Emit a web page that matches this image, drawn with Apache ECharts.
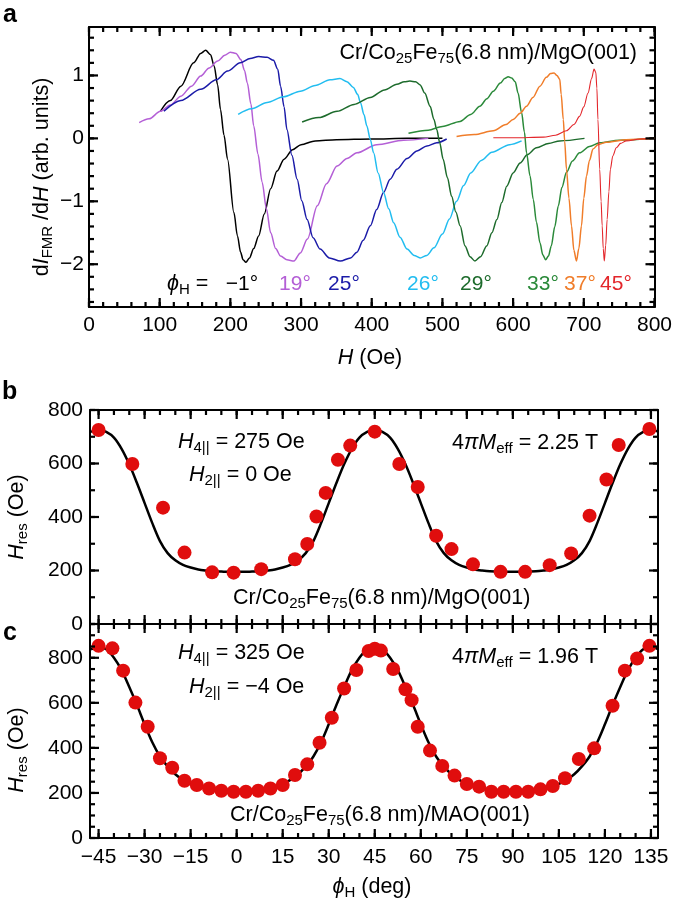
<!DOCTYPE html>
<html><head><meta charset="utf-8">
<script src="https://cdn.jsdelivr.net/npm/echarts@6/dist/echarts.min.js"></script>
<style>html,body{margin:0;padding:0;background:#fff}#c{width:675px;height:908px}</style>
</head><body><div id="c"></div>
<script>
const FONT = '"Liberation Sans", Arial, Helvetica, sans-serif';

// ---------- Panel a: FMR derivative spectra, [H (Oe), dI/dH] ----------
const specM1 = [[101,0.43],[115,0.6],[130,0.83],[148,1.2],[158,1.35],[165,1.40],[172,1.33],[177,1.15],[182,0.85],[186,0.46],[191,0.05],[196,-0.33],[205,-1.18],[210,-1.55],[214.5,-1.81],[218,-1.93],[222,-1.97],[227,-1.9],[233,-1.75],[240,-1.55],[248,-1.2],[257,-0.8],[266,-0.52],[276,-0.33],[288,-0.18],[300,-0.1],[320,-0.04],[350,-0.02],[400,-0.01],[450,0],[500,0]];
const spec19 = [[71,0.25],[85,0.31],[101,0.43],[115,0.53],[130,0.67],[145,0.83],[158,0.99],[170,1.12],[182,1.23],[192,1.32],[200,1.37],[208,1.35],[215,1.25],[220,1.08],[224,0.88],[229,0.55],[233,0.2],[239,-0.25],[245,-0.70],[251,-1.12],[257,-1.5],[264,-1.75],[271,-1.87],[280,-1.93],[290,-1.95],[299,-1.82],[309,-1.6],[323,-1.07],[336,-0.72],[351,-0.44],[365,-0.32],[379,-0.23],[407,-0.1],[445,-0.03],[480,0]];
const spec25 = [[106,0.43],[130,0.6],[158,0.78],[180,0.93],[196,1.07],[214,1.2],[228,1.27],[240,1.30],[252,1.29],[261,1.24],[267,1.1],[271,0.83],[276,0.5],[280,0.14],[287,-0.27],[294.5,-0.65],[301,-0.99],[308.6,-1.29],[317,-1.58],[327,-1.76],[340,-1.9],[355.6,-1.95],[370,-1.9],[379,-1.81],[388,-1.62],[398,-1.39],[407,-1.13],[416.7,-0.86],[426,-0.65],[435.6,-0.49],[450,-0.32],[464,-0.2],[478,-0.12],[492,-0.07],[506,-0.01]];
const spec26 = [[211,0.38],[230,0.47],[252,0.57],[275,0.66],[299,0.75],[320,0.84],[341,0.93],[355,0.95],[365,0.9],[374,0.81],[380,0.7],[384,0.57],[389,0.38],[393,0.2],[398,-0.02],[402.6,-0.23],[409,-0.55],[416.7,-0.86],[424,-1.12],[431,-1.34],[440,-1.57],[450,-1.76],[460,-1.86],[468.5,-1.9],[478,-1.86],[488,-1.74],[500,-1.52],[510,-1.28],[520,-1.0],[530,-0.75],[540,-0.55],[555,-0.35],[570,-0.22],[595,-0.1],[612,-0.04]];
const spec29 = [[301.5,0.26],[325,0.33],[351,0.43],[375,0.54],[398,0.65],[418,0.77],[435.6,0.86],[446,0.9],[454,0.91],[462,0.9],[468.5,0.85],[475,0.72],[482.6,0.51],[488,0.3],[492,0.14],[496,-0.06],[501,-0.33],[507,-0.62],[513,-0.92],[519,-1.17],[525,-1.39],[532,-1.71],[539,-1.88],[546,-1.95],[554,-1.88],[562.6,-1.71],[570,-1.5],[577,-1.29],[584,-1.02],[591,-0.76],[600,-0.55],[610,-0.39],[620,-0.26],[633,-0.15],[650,-0.08],[666,-0.04],[701,0]];
const spec33 = [[452,0.08],[480,0.13],[500,0.19],[525,0.27],[540,0.38],[553,0.51],[563,0.63],[572,0.75],[582,0.88],[588,0.95],[593,0.98],[598,0.96],[603,0.9],[607,0.72],[612,0.41],[616,0.1],[619,-0.23],[624,-0.6],[628.5,-0.97],[633,-1.33],[638,-1.66],[642,-1.85],[646,-1.93],[650,-1.87],[654,-1.71],[659,-1.4],[664,-1.07],[669,-0.78],[675.5,-0.54],[684,-0.36],[694,-0.23],[708,-0.13],[722.5,-0.07],[750,-0.03],[800,0]];
const spec37 = [[520,0.03],[545,0.06],[572,0.12],[590,0.22],[600,0.30],[610,0.4],[619,0.51],[628,0.65],[638,0.83],[647,0.97],[653,1.03],[658,1.04],[662,1.0],[666,0.94],[668,0.7],[671,0.3],[673,-0.05],[675.5,-0.49],[679,-0.95],[682.6,-1.39],[686,-1.78],[689.6,-1.95],[693,-1.75],[696.7,-1.39],[700,-0.95],[703.8,-0.6],[708,-0.35],[713,-0.17],[720,-0.1],[732,-0.06],[760,-0.02],[800,0]];
const spec45 = [[572,0.01],[600,0.01],[643,0.02],[660,0.05],[675.5,0.12],[686,0.22],[694,0.35],[700,0.5],[706,0.72],[711,0.95],[714.5,1.10],[717,1.05],[718.5,0.8],[720,0.3],[722.5,-0.49],[724.5,-1.0],[726,-1.39],[727.5,-1.75],[729,-1.95],[731,-1.7],[733,-1.29],[735.5,-0.85],[737.6,-0.49],[741,-0.28],[746,-0.15],[752,-0.08],[760,-0.04],[780,-0.01],[800,0]];
const specNames  = ['-1°','19°','25°','26°','29°','33°','37°','45°'];
const specColors = ['#000000','#b45fd6','#1b1ba8','#22bdf0','#1d6b2c','#2b8a3a','#f07d2a','#e3262b'];
const specLabelX = [242, 295, 344, 423, 476, 543, 580, 616];

// ---------- Panel b: MgO(001) ----------
const bAngle = [-45,-34,-24,-17,-8,-1,8,19,23,26,29,33,37,45,53,59,65,70,77,86,94,102,109,115,120.5,124.5,134.5];
const bHres  = [725,598,435,267,193,192,205,242,299,402,490,614,667,719,598,512,330,280,223,195,195,220,264,405,540,669,729];

// ---------- Panel c: MAO(001) ----------
const cAngle = [-45,-40.5,-37,-33,-29,-25,-21,-17,-13,-9,-5,-1,3,7,11,15,19,23,27,31,35,39,43,45,47,51,55,57,59,63,67,71,75,79,83,87,91,95,99,103,107,111.5,116.5,122.5,126.5,130.5,134.5];
const cHres  = [853,842,743,601,494,354,312,254,235,220,210,205,205,210,220,235,280,327,423,534,664,746,830,840,832,750,660,612,494,388,320,277,240,228,205,205,205,205,216,231,265,351,398,587,743,797,853];

// ---------- Fit curves ----------
const fitAngle = [-47.5,-45,-42.5,-40,-37.5,-35,-32.5,-30,-27.5,-25,-22.5,-20,-17.5,-15,-12.5,-10,-7.5,-5,-2.5,0,
 2.5,5,7.5,10,12.5,15,17.5,20,22.5,25,27.5,30,32.5,35,37.5,40,42.5,45,
 47.5,50,52.5,55,57.5,60,62.5,65,67.5,70,72.5,75,77.5,80,82.5,85,87.5,90,
 92.5,95,97.5,100,102.5,105,107.5,110,112.5,115,117.5,120,122.5,125,127.5,130,132.5,135,137.5];
const fitB = [718,727,718,697,655,597,527,452,377,310,265,238,221,211,204,200,197,196,195,195,
 195,196,197,200,204,211,221,238,265,310,377,452,527,597,655,697,718,727,
 718,697,655,597,527,452,377,310,265,238,221,211,204,200,197,196,195,195,
 195,196,197,200,204,211,221,238,265,310,377,452,527,597,655,697,718,727,718];
const fitC = [838,848,838,800,745,670,590,505,425,362,318,283,258,240,228,219,213,209,207,206,
 207,209,213,219,228,240,258,283,318,362,425,505,590,670,745,800,838,848,
 838,800,745,670,590,505,425,362,318,283,258,240,228,219,213,209,207,206,
 207,209,213,219,228,240,258,283,318,362,425,505,590,670,745,800,838,848,838];

// ---------- Tick values ----------
const aXTicks = [0,100,200,300,400,500,600,700,800];
const aYTicks = [-2,-1,0,1];
const bcXTicks = [-45,-30,-15,0,15,30,45,60,75,90,105,120,135];
const bYTicks = [0,200,400,600,800];
const cYTicks = [0,200,400,600,800];

function rng(a,b,s){const r=[];for(let v=a; v<=b+1e-9; v+=s) r.push(Math.round(v*1000)/1000); return r;}
const aXMinor = rng(0,800,20), aYMinor = rng(-2.6,1.6,0.2);
const bcXMinor = rng(-45,135,5), bYMinor = rng(0,800,100), cYMinor = rng(0,950,50);

const minus = v => String(v).replace('-', '\u2212');

const PAN = [
  {xMin:0, xMax:800, yMin:-2.68, yMax:1.77, xMaj:aXTicks, xMin_:aXMinor, yMaj:aYTicks, yMin_:aYMinor, xLab:true, xMargin:8, yMargin:5},
  {xMin:-47.8, xMax:137.3, yMin:0, yMax:800, xMaj:bcXTicks, xMin_:bcXMinor, yMaj:bYTicks, yMin_:bYMinor, xLab:false, xMargin:8, yMargin:7},
  {xMin:-47.8, xMax:137.3, yMin:0, yMax:950, xMaj:bcXTicks, xMin_:bcXMinor, yMaj:cYTicks, yMin_:cYMinor, xLab:true, xMargin:9, yMargin:7}
];

const xAxes = [], yAxes = [];
PAN.forEach((p,g)=>{
  ['bottom','top'].forEach((pos,k)=>{
    xAxes.push({type:'value', gridIndex:g, min:p.xMin, max:p.xMax, position:pos,
      axisLine:{show:true, onZero:false, lineStyle:{color:'#000', width:2}},
      splitLine:{show:false}, axisTick:{show:false}, minorTick:{show:false},
      axisLabel:{show: k===0 && p.xLab, customValues:p.xMaj, formatter:minus, color:'#000', fontSize:21, fontFamily:FONT, margin:p.xMargin}});
  });
  ['left','right'].forEach((pos,k)=>{
    yAxes.push({type:'value', gridIndex:g, min:p.yMin, max:p.yMax, position:pos,
      axisLine:{show:true, onZero:false, lineStyle:{color:'#000', width:2}},
      splitLine:{show:false}, axisTick:{show:false}, minorTick:{show:false},
      axisLabel:{show: k===0, customValues:p.yMaj, formatter:minus, color:'#000', fontSize:21, fontFamily:FONT, margin:p.yMargin}});
  });
});

// inward ticks on all four sides, placed through the axes' scales
function tickData(p){
  const d = [];
  p.xMaj.forEach(v=>{ d.push([v,p.yMin,0,9]); d.push([v,p.yMin,1,9]); });
  p.xMin_.forEach(v=>{ d.push([v,p.yMin,0,5]); d.push([v,p.yMin,1,5]); });
  p.yMaj.forEach(v=>{ d.push([p.xMin,v,2,9]); d.push([p.xMin,v,3,9]); });
  p.yMin_.forEach(v=>{ d.push([p.xMin,v,2,5]); d.push([p.xMin,v,3,5]); });
  return d;
}
function renderTick(params, api){
  const cs = params.coordSys;
  const pt = api.coord([api.value(0), api.value(1)]);
  const side = api.value(2), len = api.value(3);
  let x1,y1,x2,y2;
  if (side===0){ x1=x2=pt[0]; y1=cs.y+cs.height; y2=y1-len; }
  else if (side===1){ x1=x2=pt[0]; y1=cs.y; y2=y1+len; }
  else if (side===2){ y1=y2=pt[1]; x1=cs.x; x2=x1+len; }
  else { y1=y2=pt[1]; x1=cs.x+cs.width; x2=x1-len; }
  return {type:'line', shape:{x1:x1,y1:y1,x2:x2,y2:y2}, style:{stroke:'#000', lineWidth:2.2}};
}

const specs = [specM1,spec19,spec25,spec26,spec29,spec33,spec37,spec45];
const series = [];
specs.forEach((d,i)=>{
  series.push({type:'line', name:specNames[i], xAxisIndex:0, yAxisIndex:0, data:d,
    showSymbol:false, symbol:'none', smooth:0.3, smoothMonotone:'x',
    lineStyle:{color:specColors[i], width: i===7 ? 1.1 : 1.5}, z:2+i});
});
series.push({type:'line', xAxisIndex:2, yAxisIndex:2, data:fitAngle.map((a,k)=>[a,fitB[k]]),
  showSymbol:false, symbol:'none', smooth:0.3, lineStyle:{color:'#000', width:2.5}, z:3});
series.push({type:'scatter', xAxisIndex:2, yAxisIndex:2, data:bAngle.map((a,k)=>[a,bHres[k]]),
  symbolSize:14, itemStyle:{color:'#e00d0d', opacity:1}, z:4});
series.push({type:'line', xAxisIndex:4, yAxisIndex:4, data:fitAngle.map((a,k)=>[a,fitC[k]]),
  showSymbol:false, symbol:'none', smooth:0.3, lineStyle:{color:'#000', width:2.5}, z:3});
series.push({type:'scatter', xAxisIndex:4, yAxisIndex:4, data:cAngle.map((a,k)=>[a,cHres[k]]),
  symbolSize:14, itemStyle:{color:'#e00d0d', opacity:1}, z:4});
PAN.forEach((p,g)=>{
  series.push({type:'custom', coordinateSystem:'cartesian2d', xAxisIndex:2*g, yAxisIndex:2*g,
    data:tickData(p), renderItem:renderTick, clip:false, z:100, encode:{x:0, y:1}});
});

const R = {
  n:{fontSize:21.5, fontFamily:FONT, fill:'#000', lineHeight:26},
  i:{fontSize:21.5, fontFamily:FONT, fontStyle:'italic', fill:'#000', lineHeight:26},
  s:{fontSize:15, fontFamily:FONT, fill:'#000', lineHeight:12, verticalAlign:'bottom'}
};
function T(x,y,text,align,rot){
  return {type:'text', x:x, y:y, rotation:rot||0, z:50,
    style:{text:text, rich:R, align:align||'left', verticalAlign:'middle', fontSize:21, fontFamily:FONT, fill:'#000'}};
}
function P(x,y,t){ return {type:'text', x:x, y:y, z:50, style:{text:t, fontSize:25, fontWeight:'bold', fontFamily:FONT, fill:'#000', align:'left', verticalAlign:'middle'}}; }

const graphics = [
  P(3,15,'a'), P(2,392,'b'), P(3,633,'c'),
  T(637,53,'{n|Cr/Co}{s|25}{n|Fe}{s|75}{n|(6.8 nm)/MgO(001)}','right'),
  T(42,177,'{n|d}{i|I}{s|FMR}{n| /d}{i|H}{n| (arb. units)}','center',Math.PI/2),
  T(370,358,'{i|H}{n| (Oe)}','center'),
  T(167,284,'{i|ϕ}{s|H}{n| =}','left'),
  T(178,442,'{i|H}{s|4||}{n| = 275 Oe}','left'),
  T(189,475,'{i|H}{s|2||}{n| = 0 Oe}','left'),
  T(452,443,'{n|4}{i|πM}{s|eff}{n| = 2.25 T}','left'),
  T(233,598,'{n|Cr/Co}{s|25}{n|Fe}{s|75}{n|(6.8 nm)/MgO(001)}','left'),
  T(178,653,'{i|H}{s|4||}{n| = 325 Oe}','left'),
  T(189,687,'{i|H}{s|2||}{n| = \u22124 Oe}','left'),
  T(452,657,'{n|4}{i|πM}{s|eff}{n| = 1.96 T}','left'),
  T(230,815,'{n|Cr/Co}{s|25}{n|Fe}{s|75}{n|(6.8 nm)/MAO(001)}','left'),
  T(17,517,'{i|H}{s|res}{n| (Oe)}','center',Math.PI/2),
  T(17,750,'{i|H}{s|res}{n| (Oe)}','center',Math.PI/2),
  T(372,887,'{i|ϕ}{s|H}{n| (deg)}','center')
];
specNames.forEach((nm,i)=>{
  graphics.push({type:'text', x:specLabelX[i], y:284, z:50,
    style:{text:minus(nm), fontSize:21, fontFamily:FONT, fill:specColors[i], align:'center', verticalAlign:'middle'}});
});

const chart = echarts.init(document.getElementById('c'), null, {renderer:'canvas', width:675, height:908});
chart.setOption({
  animation:false,
  backgroundColor:'#fff',
  grid:[
    {left:89, right:19, top:27, height:280, show:false, containLabel:false},
    {left:90, right:17, top:410, height:214, show:false, containLabel:false},
    {left:90, right:17, top:624, height:214, show:false, containLabel:false}
  ],
  xAxis:xAxes, yAxis:yAxes, series:series, graphic:graphics
});
</script></body></html>
